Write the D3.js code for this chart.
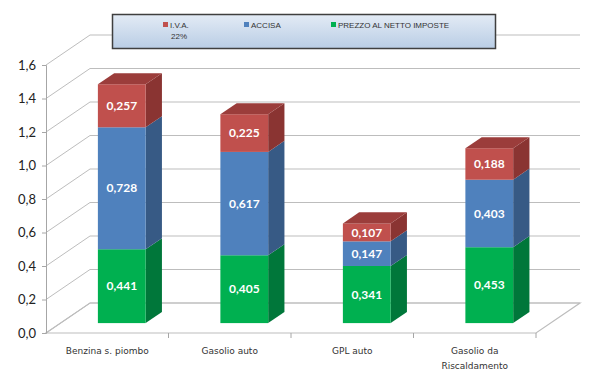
<!DOCTYPE html>
<html>
<head>
<meta charset="utf-8">
<script src="https://cdn.jsdelivr.net/npm/d3@7"></script>
<style>
  body { margin: 0; background: #fff; }
  svg { display: block; }
</style>
</head>
<body>
<div id="chart"></div>
<script>
// data
var categories = ["Benzina s. piombo", "Gasolio auto", "GPL auto", "Gasolio da Riscaldamento"];
var prezzoNetto = [0.441, 0.405, 0.341, 0.453];
var accisa = [0.728, 0.617, 0.147, 0.403];
var iva = [0.257, 0.225, 0.107, 0.188];
var yTicks = [0, 0.2, 0.4, 0.6, 0.8, 1.0, 1.2, 1.4, 1.6];
var seriesNames = ["I.V.A. 22%", "ACCISA", "PREZZO AL NETTO IMPOSTE"];

var svgWidth = 595;
var svgHeight = 372;

var svg = d3.select("#chart")
  .append("svg")
  .attr("width", svgWidth)
  .attr("height", svgHeight);

// front plane of the plot
var x = d3.scaleBand()
  .domain(categories)
  .range([46, 536])
  .paddingInner(0)
  .paddingOuter(0);

var y = d3.scaleLinear()
  .domain([0, 1.6])
  .range([333, 65]);

// depth of the 3d box, and where bars sit in it
var depth = { dx: 44, dy: -30 };
var barFront = 0.33, barBack = 0.70;
var barWidth = x.bandwidth() * 0.39;

var gridColor = "#bdbdbd";

var table = categories.map(function(c, i) {
  return { cat: c, prezzo: prezzoNetto[i], accisa: accisa[i], iva: iva[i] };
});

var keys = ["prezzo", "accisa", "iva"];
var colors = {
  prezzo: { front: "#00b050", side: "#00773a", top: "#008a42" },
  accisa: { front: "#4f81bd", side: "#375a85", top: "#3e6696" },
  iva: { front: "#c0504d", side: "#8a3432", top: "#9b3d3b" }
};

// walls / gridlines
var grid = svg.append("g");

yTicks.forEach(function(t) {
  var fy = y(t);
  // left wall diagonal
  grid.append("line")
    .attr("x1", x.range()[0]).attr("y1", fy)
    .attr("x2", x.range()[0] + depth.dx).attr("y2", fy + depth.dy)
    .attr("stroke", gridColor).attr("stroke-width", 1);
  // back wall line
  grid.append("line")
    .attr("x1", x.range()[0] + depth.dx).attr("y1", fy + depth.dy)
    .attr("x2", x.range()[1] + depth.dx).attr("y2", fy + depth.dy)
    .attr("stroke", gridColor).attr("stroke-width", 1.2);
});

// floor
var floorPts = [
  [x.range()[0], y(0)],
  [x.range()[1], y(0)],
  [x.range()[1] + depth.dx, y(0) + depth.dy],
  [x.range()[0] + depth.dx, y(0) + depth.dy]
];
grid.append("polygon")
  .attr("points", floorPts.map(function(p) { return p.join(","); }).join(" "))
  .attr("fill", "none")
  .attr("stroke", gridColor)
  .attr("stroke-width", 1.2);

// y axis
var yAxis = d3.axisLeft(y)
  .tickValues(yTicks)
  .tickSize(4)
  .tickPadding(6)
  .tickFormat(function(d) { return d3.format(".1f")(d).replace(".", ","); });

var yAxisG = svg.append("g")
  .attr("transform", "translate(" + x.range()[0] + ",0)")
  .call(yAxis);
yAxisG.select(".domain").attr("stroke", "#a6a6a6");
yAxisG.selectAll(".tick line").attr("stroke", "#a6a6a6");
yAxisG.selectAll(".tick text")
  .attr("fill", "#222")
  .style("font-family", "Lato, 'Open Sans', sans-serif")
  .style("font-size", "13px");

// x axis ticks (category boundaries)
var xBounds = categories.map(function(c) { return x(c); }).concat([x.range()[1]]);
svg.append("g").selectAll("line")
  .data(xBounds.slice(1))
  .enter()
  .append("line")
  .attr("x1", d => d).attr("x2", d => d)
  .attr("y1", y(0)).attr("y2", y(0) + 5)
  .attr("stroke", "#a6a6a6");

// category labels
var catText = svg.append("g").selectAll("text")
  .data(categories)
  .enter()
  .append("text")
  .attr("x", d => x(d) + x.bandwidth() / 2)
  .attr("y", 354)
  .attr("text-anchor", "middle")
  .attr("fill", "#333")
  .style("font-family", "'DejaVu Sans', sans-serif")
  .style("font-size", "9px");

catText.each(function(d) {
  var t = d3.select(this);
  var lines = d === "Gasolio da Riscaldamento" ? ["Gasolio da", "Riscaldamento"] : [d];
  lines.forEach(function(l, i) {
    t.append("tspan")
      .attr("x", x(d) + x.bandwidth() / 2)
      .attr("dy", i === 0 ? 0 : 15)
      .text(l);
  });
});

// stacked 3d bars
var stacked = d3.stack().keys(keys)(table);

var bars = svg.append("g");
var fx = depth.dx * barFront, fyOff = depth.dy * barFront;
var bdx = depth.dx * (barBack - barFront), bdy = depth.dy * (barBack - barFront);

stacked.forEach(function(layer, li) {
  var key = layer.key;
  layer.forEach(function(seg, i) {
    var d = seg.data;
    var x0 = x(d.cat) + (x.bandwidth() - barWidth) / 2 + fx;
    var x1 = x0 + barWidth;
    var yb = y(seg[0]) + fyOff;
    var yt = y(seg[1]) + fyOff;
    var g = bars.append("g");
    // right side face
    g.append("polygon")
      .attr("points", [[x1, yb], [x1 + bdx, yb + bdy], [x1 + bdx, yt + bdy], [x1, yt]].map(p => p.join(",")).join(" "))
      .attr("fill", colors[key].side);
    // front face
    g.append("rect")
      .attr("x", x0).attr("y", yt)
      .attr("width", barWidth).attr("height", yb - yt)
      .attr("fill", colors[key].front);
    // top face only on the last segment
    if (li === stacked.length - 1) {
      g.append("polygon")
        .attr("points", [[x0, yt], [x1, yt], [x1 + bdx, yt + bdy], [x0 + bdx, yt + bdy]].map(p => p.join(",")).join(" "))
        .attr("fill", colors[key].top);
    }
    // value label
    g.append("text")
      .attr("x", (x0 + x1) / 2)
      .attr("y", (yb + yt) / 2)
      .attr("dy", "0.35em")
      .attr("text-anchor", "middle")
      .attr("fill", "#fff")
      .style("font-family", "Lato, 'Open Sans', sans-serif")
      .style("font-weight", "bold")
      .style("font-size", "12px")
      .text(d3.format(".3f")(seg[1] - seg[0]).replace(".", ","));
  });
});

// legend
var defs = svg.append("defs");
var grad = defs.append("linearGradient")
  .attr("id", "legGrad")
  .attr("x1", 0).attr("y1", 0).attr("x2", 0).attr("y2", 1);
grad.append("stop").attr("offset", "0%").attr("stop-color", "#e3ebf5");
grad.append("stop").attr("offset", "100%").attr("stop-color", "#b9cde5");

var legend = svg.append("g");
legend.append("rect")
  .attr("x", 112.5).attr("y", 14.5)
  .attr("width", 383).attr("height", 34)
  .attr("fill", "url(#legGrad)")
  .attr("stroke", "#3f3f3f")
  .attr("stroke-width", 1.5);

var legItems = [
  { name: seriesNames[0], color: colors.iva.front, x: 163 },
  { name: seriesNames[1], color: colors.accisa.front, x: 244 },
  { name: seriesNames[2], color: colors.prezzo.front, x: 331 }
];

legItems.forEach(function(it) {
  legend.append("rect")
    .attr("x", it.x).attr("y", 22)
    .attr("width", 5).attr("height", 5)
    .attr("fill", it.color);
  var t = legend.append("text")
    .attr("x", it.x + 7)
    .attr("y", 28)
    .attr("fill", "#333")
    .style("font-family", "'Liberation Sans', sans-serif")
    .style("font-size", "8px");
  if (it.name === "I.V.A. 22%") {
    t.append("tspan").attr("x", it.x + 7).text("I.V.A.");
    t.append("tspan").attr("x", it.x + 8).attr("dy", 11).text("22%");
  } else {
    t.text(it.name);
  }
});
</script>
</body>
</html>
